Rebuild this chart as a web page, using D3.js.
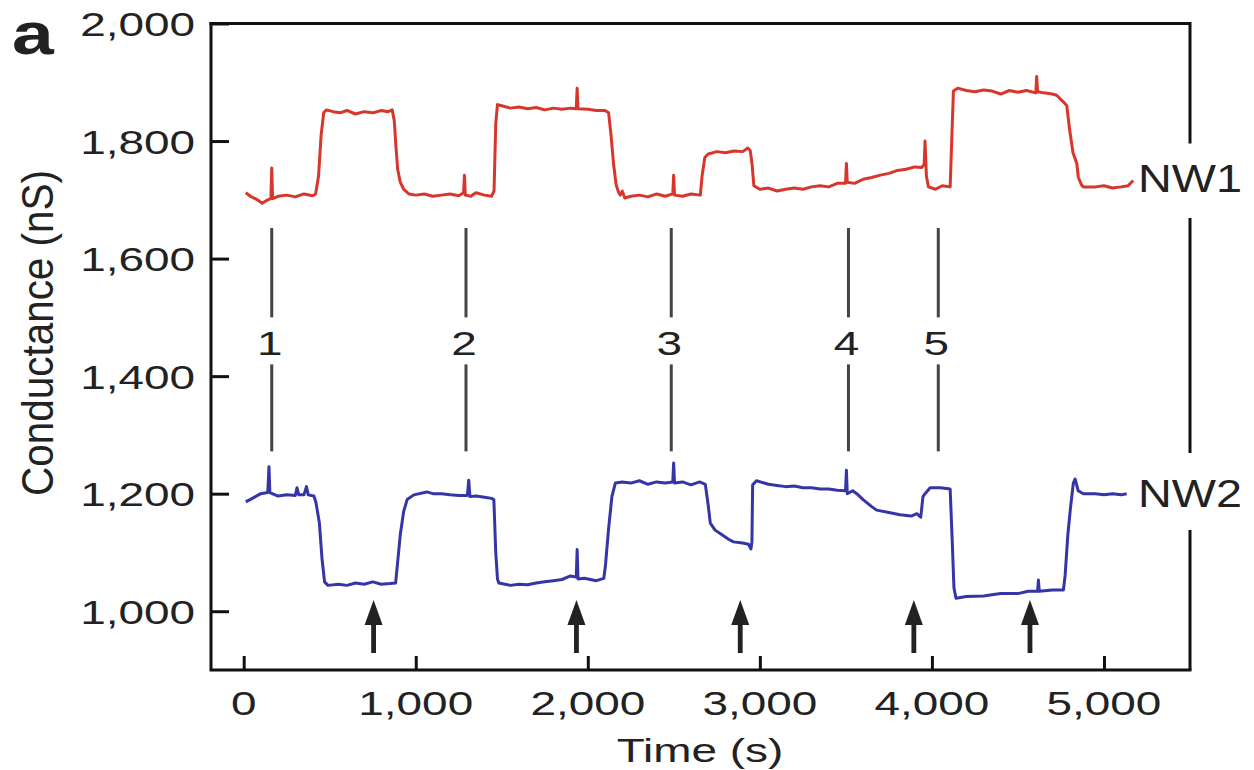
<!DOCTYPE html>
<html>
<head>
<meta charset="utf-8">
<script src="https://cdn.jsdelivr.net/npm/d3@7"></script>
<style>
  html, body { margin: 0; padding: 0; background: #fff; }
  svg { display: block; }
  text { font-family: "Liberation Sans", Arial, Helvetica, sans-serif; fill: #222; }
</style>
</head>
<body>
<svg id="chart" width="1254" height="770"></svg>
<script>
// ---------------- data ----------------
const xTicks = [0, 1000, 2000, 3000, 4000, 5000];
const yTicks = [1000, 1200, 1400, 1600, 1800, 2000];

const nw1Time = [12,40,80,108,140,158,163,168,200,250,300,350,400,418,435,450,465,480,520,560,600,650,700,750,800,840,863,875,885,895,910,930,960,1000,1050,1100,1150,1200,1250,1278,1283,1288,1320,1350,1400,1440,1455,1465,1475,1500,1550,1600,1650,1700,1750,1800,1850,1900,1933,1938,1943,2000,2050,2100,2121,2135,2150,2165,2180,2189,2200,2215,2250,2300,2350,2400,2450,2494,2499,2504,2550,2600,2654,2664,2680,2700,2750,2800,2850,2900,2930,2944,2955,2965,3000,3050,3100,3150,3200,3250,3300,3350,3400,3450,3498,3503,3508,3550,3600,3650,3700,3750,3800,3850,3900,3940,3955,3960,3968,3980,4020,4060,4106,4115,4125,4150,4200,4250,4300,4350,4400,4450,4500,4550,4604,4609,4614,4650,4700,4725,4745,4770,4784,4800,4820,4842,4851,4870,4880,4950,5000,5050,5100,5140,5170];
const nw1Cond = [1712,1706,1700,1694,1700,1702,1754,1702,1706,1708,1705,1710,1707,1710,1740,1810,1848,1853,1850,1848,1852,1846,1850,1848,1852,1850,1853,1835,1790,1752,1730,1718,1710,1708,1710,1706,1708,1710,1707,1712,1742,1708,1706,1712,1708,1706,1715,1830,1862,1860,1856,1858,1855,1857,1853,1856,1854,1856,1855,1890,1855,1854,1852,1852,1848,1810,1760,1725,1712,1708,1715,1703,1706,1708,1705,1710,1706,1710,1742,1708,1706,1710,1708,1740,1772,1778,1782,1780,1783,1782,1788,1784,1760,1724,1718,1720,1715,1718,1720,1718,1722,1724,1722,1728,1728,1762,1730,1728,1735,1738,1742,1745,1750,1752,1756,1755,1760,1800,1740,1722,1718,1724,1722,1800,1885,1890,1886,1884,1887,1885,1880,1886,1883,1886,1882,1910,1884,1882,1880,1878,1872,1865,1860,1820,1780,1762,1738,1725,1722,1722,1724,1720,1722,1724,1733];

const nw2Time = [12,50,99,140,147,152,200,250,300,310,320,350,365,375,408,420,440,455,470,490,550,600,650,700,750,800,850,883,892,910,930,950,989,1064,1100,1150,1200,1250,1300,1308,1315,1350,1400,1440,1454,1465,1475,1483,1550,1600,1650,1700,1750,1800,1850,1900,1933,1938,1943,1980,2050,2093,2102,2120,2140,2160,2200,2250,2300,2350,2400,2450,2494,2499,2504,2550,2600,2650,2683,2700,2712,2740,2780,2820,2847,2900,2934,2948,2954,2958,2980,3050,3100,3150,3200,3250,3300,3350,3400,3450,3498,3503,3508,3540,3563,3600,3650,3679,3750,3815,3880,3912,3935,3948,3960,3990,4050,4106,4118,4128,4140,4200,4300,4400,4500,4560,4614,4619,4624,4700,4764,4774,4790,4805,4822,4832,4850,4880,4950,5000,5050,5100,5132];
const nw2Cond = [1186,1192,1200,1202,1246,1202,1196,1198,1197,1210,1198,1198,1212,1198,1196,1185,1150,1090,1050,1044,1046,1044,1048,1046,1050,1046,1047,1048,1075,1130,1170,1190,1198,1203,1200,1200,1198,1197,1197,1223,1195,1196,1194,1192,1190,1100,1055,1048,1044,1046,1045,1048,1050,1052,1054,1060,1058,1105,1055,1056,1052,1056,1076,1138,1195,1218,1220,1218,1222,1216,1220,1218,1220,1252,1218,1220,1215,1220,1216,1180,1150,1138,1130,1122,1118,1116,1114,1106,1118,1215,1222,1216,1214,1212,1213,1210,1210,1208,1208,1206,1205,1240,1200,1205,1200,1190,1178,1172,1168,1164,1162,1166,1160,1195,1200,1210,1210,1208,1120,1040,1022,1025,1026,1030,1030,1034,1034,1053,1034,1036,1036,1060,1130,1175,1218,1225,1205,1200,1200,1198,1200,1198,1200];

// annotations
const markerTimes = [163, 1292, 2485, 3515, 4037];
const markerLabels = ["1", "2", "3", "4", "5"];
const markerSpan = [1652, 1500, 1420, 1272];   // conductance: top, gap top, gap bottom, bottom
const markerLabelCond = 1436;
const arrowTimes = [755, 1934, 2886, 3895, 4570];
const arrowSpan = [1019, 929];                 // conductance: tip, tail

const seriesNames = ["NW1", "NW2"];

// ---------------- layout ----------------
const svg = d3.select("#chart");
const padL = 211, padR = 1190, padT = 23.5, padB = 670;
const x = d3.scaleLinear().domain([-190, 5500]).range([padL, padR]);
const y = d3.scaleLinear().domain([900, 2000]).range([padB, padT]);

const SX = 1.35; // horizontal stretch of lettering

function label(g, px, py, str, size, anchor, sx, weight) {
  return g.append("text")
    .attr("transform", `translate(${px},${py}) scale(${sx},1)`)
    .attr("text-anchor", anchor)
    .attr("font-size", size)
    .attr("font-weight", weight || "normal")
    .text(str);
}

// axes (ticks pointing inward)
const xAxis = d3.axisBottom(x).tickValues(xTicks).tickSize(-14).tickFormat("");
const yAxis = d3.axisLeft(y).tickValues(yTicks).tickSize(-18).tickFormat("");

const gx = svg.append("g").attr("transform", `translate(0,${padB})`).call(xAxis);
const gy = svg.append("g").attr("transform", `translate(${padL},0)`).call(yAxis);
[gx, gy].forEach(g => {
  g.select(".domain").remove();
  g.selectAll(".tick line").attr("stroke", "#111").attr("stroke-width", 3);
});

// frame
const frame = svg.append("g").attr("stroke", "#111").attr("stroke-width", 3).attr("fill", "none");
frame.append("path").attr("d", `M${padL},${padT}V${padB}H${padR}`).attr("stroke-linecap", "square");
frame.append("path").attr("d", `M${padL},${padT}H${padR}V142`).attr("stroke-linecap", "square");
frame.append("line").attr("x1", padR).attr("x2", padR).attr("y1", 218).attr("y2", 453);
frame.append("line").attr("x1", padR).attr("x2", padR).attr("y1", 530).attr("y2", padB);

// tick labels
const tl = svg.append("g");
xTicks.forEach(t => label(tl, x(t), 715, d3.format(",")(t), 34, "middle", SX));
yTicks.forEach(v => label(tl, 195, y(v) + 12.5, d3.format(",")(v), 34, "end", SX));

// axis titles
label(svg, 700, 762, "Time (s)", 34, "middle", SX);
svg.append("text")
  .attr("transform", "translate(53,333) rotate(-90) scale(1.19,1.32)")
  .attr("text-anchor", "middle")
  .attr("font-size", 34)
  .text("Conductance (nS)");

// panel letter
label(svg, 12, 54, "a", 60, "start", 1.25, "bold");

// traces
const line = d3.line().x(d => x(d[0])).y(d => y(d[1]));
const nw1 = nw1Time.map((t, i) => [t, nw1Cond[i]]);
const nw2 = nw2Time.map((t, i) => [t, nw2Cond[i]]);
svg.append("path").datum(nw1).attr("d", line)
  .attr("fill", "none").attr("stroke", "#d8362b").attr("stroke-width", 3).attr("stroke-linejoin", "round");
svg.append("path").datum(nw2).attr("d", line)
  .attr("fill", "none").attr("stroke", "#3535a8").attr("stroke-width", 3).attr("stroke-linejoin", "round");

// series labels
label(svg, 1138, 192, seriesNames[0], 39, "start", 1.2);
label(svg, 1138, 507, seriesNames[1], 39, "start", 1.2);

// event markers
const mk = svg.append("g");
markerTimes.forEach((t, i) => {
  mk.append("line").attr("x1", x(t)).attr("x2", x(t))
    .attr("y1", y(markerSpan[0])).attr("y2", y(markerSpan[1]))
    .attr("stroke", "#444").attr("stroke-width", 3);
  mk.append("line").attr("x1", x(t)).attr("x2", x(t))
    .attr("y1", y(markerSpan[2])).attr("y2", y(markerSpan[3]))
    .attr("stroke", "#444").attr("stroke-width", 3);
  label(mk, x(t) - 2, y(markerLabelCond), markerLabels[i], 34, "middle", SX);
});

// arrows
const ar = svg.append("g").attr("fill", "#222");
arrowTimes.forEach(t => {
  const cx = x(t), tip = y(arrowSpan[0]), tail = y(arrowSpan[1]);
  ar.append("path").attr("d", `M${cx},${tip}L${cx + 9},${tip + 25}L${cx + 2.4},${tip + 25}V${tail}H${cx - 2.4}V${tip + 25}H${cx - 9}Z`);
});
</script>
</body>
</html>
